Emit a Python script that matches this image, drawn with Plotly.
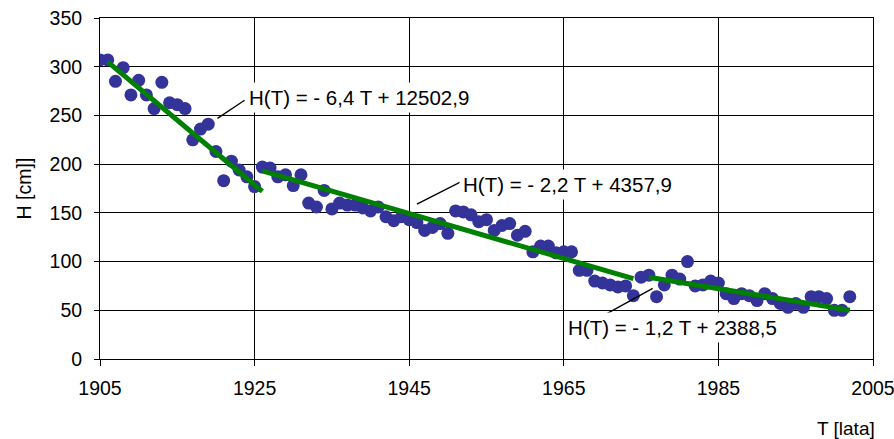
import plotly.graph_objects as go

# ---- data ----
years = list(range(1905, 2003))
H = [307, 307, 285, 299, 271, 286, 271, 257, 284, 263,
     261, 257, 225, 236, 241, 213, 183, 203, 194, 187,
     177, 197, 196, 187, 189, 178, 189, 160, 156, 173,
     154, 160, 158, 158, 155, 152, 156, 146, 142, 146,
     143, 140, 132, 135, 139, 129, 152, 151, 148, 141,
     143, 132, 137, 139, 127, 131, 110, 116, 116, 109,
     110, 110, 91, 91, 80, 78, 76, 74, 75, 65,
     84, 86, 64, 76, 86, 82, 100, 75, 76, 80,
     78, 67, 62, 67, 65, 60, 67, 62, 57, 53,
     57, 53, 64, 64, 62, 50, 50, 64]

trend1_x = [1906, 1926]
trend1_y = [305, 172]
trend2_x = [1926, 1974]
trend2_y = [193, 82.5]
trend3_x = [1976, 2002]
trend3_y = [84, 50]

labels = ["H(T) = - 6,4 T + 12502,9",
          "H(T) = - 2,2 T + 4357,9",
          "H(T) = - 1,2 T + 2388,5"]
label_pos = [(1923.7, 268.5), (1951.5, 179), (1965.0, 32.5)]
leaders = [((1920.2, 247), (1923.7, 265.5)),
           ((1946.0, 159), (1951.6, 181.5)),
           ((1969.4, 41.5), (1976.5, 72.5))]

x_ticks = [1905, 1925, 1945, 1965, 1985, 2005]
y_ticks = [0, 50, 100, 150, 200, 250, 300, 350]

FONT = "Liberation Sans, Arial, sans-serif"

fig = go.Figure()
fig.add_trace(go.Scatter(x=years, y=H, mode="markers",
                         marker=dict(size=13, color="#333399", line=dict(width=0)),
                         showlegend=False, hoverinfo="x+y"))
for tx, ty in [(trend1_x, trend1_y), (trend2_x, trend2_y), (trend3_x, trend3_y)]:
    fig.add_trace(go.Scatter(x=tx, y=ty, mode="lines",
                             line=dict(color="#008000", width=5),
                             showlegend=False, hoverinfo="skip"))

for (p0, p1) in leaders:
    fig.add_shape(type="line", xref="x", yref="y",
                  x0=p0[0], y0=p0[1], x1=p1[0], y1=p1[1],
                  line=dict(color="black", width=1.3), layer="above")

for txt, (ax_, ay_) in zip(labels, label_pos):
    fig.add_annotation(x=ax_, y=ay_, xref="x", yref="y", text=txt,
                       showarrow=False, xanchor="left", yanchor="middle",
                       bgcolor="white", borderpad=3,
                       font=dict(family=FONT, size=20.5, color="black"))

fig.add_annotation(x=1.005, y=-0.205, xref="paper", yref="paper",
                   text="T [lata]", showarrow=False,
                   xanchor="right", yanchor="middle",
                   font=dict(family=FONT, size=19, color="black"))

fig.update_layout(
    width=894, height=439,
    margin=dict(l=100, r=21, t=18, b=80, autoexpand=False),
    paper_bgcolor="white", plot_bgcolor="white",
    font=dict(family=FONT, size=19.5, color="black"),
    xaxis=dict(range=[1905, 2005], tickvals=x_ticks,
               showgrid=True, gridcolor="black", gridwidth=1,
               showline=True, linecolor="black", linewidth=1, mirror=True,
               ticks="outside", ticklen=6, tickcolor="black",
               zeroline=False, ticklabelstandoff=6,
               ticklabeloverflow="allow", automargin=False),
    yaxis=dict(range=[0, 350], tickvals=y_ticks,
               showgrid=True, gridcolor="black", gridwidth=1,
               showline=True, linecolor="black", linewidth=1, mirror=True,
               ticks="outside", ticklen=5, tickcolor="black",
               zeroline=False, ticklabelstandoff=8,
               ticklabeloverflow="allow", automargin=False,
               title=dict(text="H [cm]]", standoff=12,
                          font=dict(family=FONT, size=19.5))),
)

fig.write_html("out.html",
               config={"displayModeBar": False},
               post_script="document.body.style.margin='0';"
                           "document.body.style.overflow='hidden';")
